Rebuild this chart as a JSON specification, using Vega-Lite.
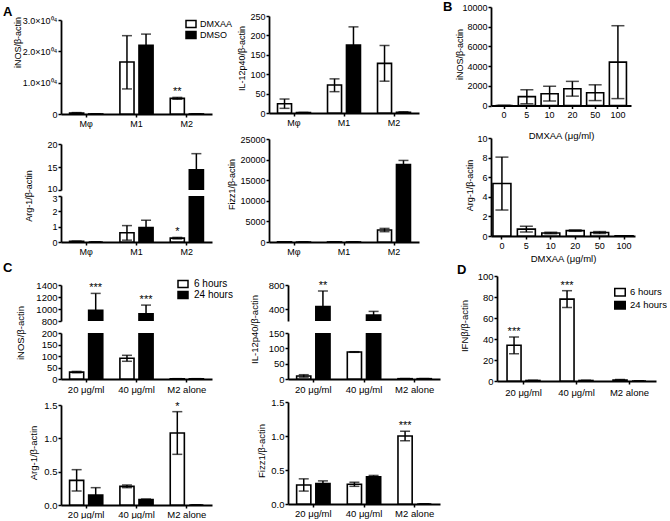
{
"$schema": "https://vega.github.io/schema/vega-lite/v6.json",
"padding": {"left": 3, "top": 1, "right": 0, "bottom": 0},
"background": "white",
"config": {
  "view": {"stroke": null},
  "font": "Liberation Sans",
  "axis": {"domainColor": "black", "domainWidth": 1.8, "tickColor": "black", "tickWidth": 1.5, "tickSize": 3, "labelColor": "black", "labelFontSize": 9, "labelPadding": 1, "labelOverlap": false, "titleColor": "black", "titleFontSize": 9, "titleFontWeight": "normal", "grid": false},
  "legend": {"padding": 0, "labelColor": "black", "labelFontSize": 9, "symbolStrokeColor": "black", "symbolStrokeWidth": 1.5, "labelOffset": 3, "rowPadding": 0},
  "title": {"fontSize": 13, "fontWeight": "bold", "color": "black", "anchor": "start", "frame": "group", "offset": 0},
  "text": {"color": "black"}
},
"datasets": {
  "AiNOS": [
    {"cat": "Mφ", "grp": "DMXAA", "mean": 300, "lo": 150, "hi": 450},
    {"cat": "Mφ", "grp": "DMSO", "mean": 20, "lo": 20, "hi": 20},
    {"cat": "M1", "grp": "DMXAA", "mean": 16600, "lo": 8000, "hi": 25000},
    {"cat": "M1", "grp": "DMSO", "mean": 21900, "lo": 18300, "hi": 25500},
    {"cat": "M2", "grp": "DMXAA", "mean": 5000, "lo": 4700, "hi": 5300, "sig": "**"},
    {"cat": "M2", "grp": "DMSO", "mean": 20, "lo": 20, "hi": 20}
  ],
  "AIL12": [
    {"cat": "Mφ", "grp": "DMXAA", "mean": 24, "lo": 12, "hi": 36},
    {"cat": "Mφ", "grp": "DMSO", "mean": 1, "lo": 0.5, "hi": 1.5},
    {"cat": "M1", "grp": "DMXAA", "mean": 72, "lo": 55, "hi": 88},
    {"cat": "M1", "grp": "DMSO", "mean": 175, "lo": 128, "hi": 222},
    {"cat": "M2", "grp": "DMXAA", "mean": 128, "lo": 82, "hi": 174},
    {"cat": "M2", "grp": "DMSO", "mean": 2, "lo": 1, "hi": 3}
  ],
  "AArg1": [
    {"cat": "Mφ", "grp": "DMXAA", "mean": 0.04, "lo": 0.03, "hi": 0.05},
    {"cat": "Mφ", "grp": "DMSO", "mean": 0, "lo": 0, "hi": 0},
    {"cat": "M1", "grp": "DMXAA", "mean": 0.6, "lo": 0.12, "hi": 1.07},
    {"cat": "M1", "grp": "DMSO", "mean": 0.95, "lo": 0.48, "hi": 1.42},
    {"cat": "M2", "grp": "DMXAA", "mean": 0.25, "lo": 0.2, "hi": 0.3, "sig": "*"},
    {"cat": "M2", "grp": "DMSO", "mean": 14.4, "lo": 10.9, "hi": 17.9}
  ],
  "AFizz1": [
    {"cat": "Mφ", "grp": "DMXAA", "mean": 20, "lo": 20, "hi": 20},
    {"cat": "Mφ", "grp": "DMSO", "mean": 10, "lo": 10, "hi": 10},
    {"cat": "M1", "grp": "DMXAA", "mean": 20, "lo": 20, "hi": 20},
    {"cat": "M1", "grp": "DMSO", "mean": 10, "lo": 10, "hi": 10},
    {"cat": "M2", "grp": "DMXAA", "mean": 2900, "lo": 2500, "hi": 3300},
    {"cat": "M2", "grp": "DMSO", "mean": 18800, "lo": 17800, "hi": 19800}
  ],
  "BiNOS": [
    {"conc": "0", "mean": 0, "lo": 0, "hi": 0},
    {"conc": "5", "mean": 900, "lo": 170, "hi": 1600},
    {"conc": "10", "mean": 1200, "lo": 450, "hi": 1950},
    {"conc": "20", "mean": 1700, "lo": 950, "hi": 2450},
    {"conc": "50", "mean": 1300, "lo": 500, "hi": 2100},
    {"conc": "100", "mean": 4400, "lo": 700, "hi": 8100}
  ],
  "BArg1": [
    {"conc": "0", "mean": 5.35, "lo": 2.65, "hi": 8.05},
    {"conc": "5", "mean": 0.7, "lo": 0.4, "hi": 1.0},
    {"conc": "10", "mean": 0.3, "lo": 0.22, "hi": 0.38},
    {"conc": "20", "mean": 0.55, "lo": 0.48, "hi": 0.62},
    {"conc": "50", "mean": 0.35, "lo": 0.25, "hi": 0.45},
    {"conc": "100", "mean": 0.02, "lo": 0.01, "hi": 0.03}
  ],
  "CiNOS": [
    {"cat": "20 μg/ml", "grp": "6 hours", "mean": 30, "lo": 27, "hi": 33},
    {"cat": "20 μg/ml", "grp": "24 hours", "mean": 980, "lo": 700, "hi": 1260, "sig": "***"},
    {"cat": "40 μg/ml", "grp": "6 hours", "mean": 90, "lo": 77, "hi": 103},
    {"cat": "40 μg/ml", "grp": "24 hours", "mean": 920, "lo": 775, "hi": 1065, "sig": "***"},
    {"cat": "M2 alone", "grp": "6 hours", "mean": 1, "lo": 0.5, "hi": 1.5},
    {"cat": "M2 alone", "grp": "24 hours", "mean": 1, "lo": 0.5, "hi": 1.5}
  ],
  "CIL12": [
    {"cat": "20 μg/ml", "grp": "6 hours", "mean": 10, "lo": 6, "hi": 14},
    {"cat": "20 μg/ml", "grp": "24 hours", "mean": 440, "lo": 180, "hi": 700, "sig": "**"},
    {"cat": "40 μg/ml", "grp": "6 hours", "mean": 88, "lo": 87, "hi": 89},
    {"cat": "40 μg/ml", "grp": "24 hours", "mean": 300, "lo": 240, "hi": 360},
    {"cat": "M2 alone", "grp": "6 hours", "mean": 1, "lo": 0.5, "hi": 1.5},
    {"cat": "M2 alone", "grp": "24 hours", "mean": 1, "lo": 0.5, "hi": 1.5}
  ],
  "CArg1": [
    {"cat": "20 μg/ml", "grp": "6 hours", "mean": 0.37, "lo": 0.21, "hi": 0.53},
    {"cat": "20 μg/ml", "grp": "24 hours", "mean": 0.15, "lo": 0.04, "hi": 0.26},
    {"cat": "40 μg/ml", "grp": "6 hours", "mean": 0.28, "lo": 0.26, "hi": 0.3},
    {"cat": "40 μg/ml", "grp": "24 hours", "mean": 0.08, "lo": 0.07, "hi": 0.09},
    {"cat": "M2 alone", "grp": "6 hours", "mean": 1.08, "lo": 0.76, "hi": 1.4, "sig": "*"},
    {"cat": "M2 alone", "grp": "24 hours", "mean": 0, "lo": 0, "hi": 0}
  ],
  "CFizz1": [
    {"cat": "20 μg/ml", "grp": "6 hours", "mean": 0.28, "lo": 0.19, "hi": 0.37},
    {"cat": "20 μg/ml", "grp": "24 hours", "mean": 0.3, "lo": 0.26, "hi": 0.34},
    {"cat": "40 μg/ml", "grp": "6 hours", "mean": 0.29, "lo": 0.26, "hi": 0.32},
    {"cat": "40 μg/ml", "grp": "24 hours", "mean": 0.4, "lo": 0.38, "hi": 0.42},
    {"cat": "M2 alone", "grp": "6 hours", "mean": 1.0, "lo": 0.93, "hi": 1.07, "sig": "***"},
    {"cat": "M2 alone", "grp": "24 hours", "mean": 0, "lo": 0, "hi": 0}
  ],
  "DIFN": [
    {"cat": "20 μg/ml", "grp": "6 hours", "mean": 34, "lo": 26, "hi": 42, "sig": "***"},
    {"cat": "20 μg/ml", "grp": "24 hours", "mean": 0.5, "lo": 0.3, "hi": 0.7},
    {"cat": "40 μg/ml", "grp": "6 hours", "mean": 78, "lo": 70, "hi": 86, "sig": "***"},
    {"cat": "40 μg/ml", "grp": "24 hours", "mean": 0.5, "lo": 0.3, "hi": 0.7},
    {"cat": "M2 alone", "grp": "6 hours", "mean": 1, "lo": 0.6, "hi": 1.4},
    {"cat": "M2 alone", "grp": "24 hours", "mean": 0, "lo": 0, "hi": 0}
  ]
},
"resolve": {"scale": {"fill": "independent", "xOffset": "independent"}, "legend": {"fill": "independent"}},
"spacing": -2,
"vconcat": [
{
  "spacing": 24,
  "resolve": {"scale": {"fill": "independent", "xOffset": "independent"}, "legend": {"fill": "independent"}},
  "hconcat": [
  {
    "spacing": -7,
    "resolve": {"scale": {"fill": "independent", "xOffset": "independent"}, "legend": {"fill": "independent"}},
    "hconcat": [
    {
      "spacing": 6, "bounds": "flush",
      "resolve": {"scale": {"fill": "independent", "xOffset": "independent"}, "legend": {"fill": "independent"}},
      "vconcat": [
        {"width": 10, "height": 6.5, "data": {"values": [{"s": 1}]}, "mark": {"type": "point", "opacity": 0, "size": 1}, "encoding": {}},
        {
          "width": 151, "height": 94, "data": {"name": "AiNOS"},
          "title": {"text": "A", "dx": -58, "dy": 7},
          "encoding": {
            "x": {"field": "cat", "type": "nominal", "sort": null, "scale": {"paddingInner": 0, "paddingOuter": 0}, "axis": {"title": null, "labelAngle": 0, "labelPadding": 2}},
            "xOffset": {"field": "grp", "type": "nominal", "sort": null, "scale": {"paddingInner": 0.26, "paddingOuter": 0.45}}
          },
          "layer": [
            {"mark": {"type": "bar", "stroke": "black", "strokeWidth": 1.6},
             "encoding": {
               "y": {"field": "mean", "type": "quantitative", "title": "iNOS/β-actin", "scale": {"domain": [0, 30000], "nice": false}, "axis": {"values": [0, 10000, 20000, 30000], "tickCount": 20, "labelOverlap": false, "labelExpr": "datum.value == 0 ? '0' : format(datum.value / 10000, '.1f') + '×10⁰⁴'", "titleX": -39, "titleY": 22}},
               "fill": {"field": "grp", "type": "nominal", "sort": null, "scale": {"domain": ["DMXAA", "DMSO"], "range": ["white", "black"]}, "legend": {"title": null, "orient": "none", "legendX": 124, "legendY": -1.5, "symbolType": "M-1,-0.7H1V0.7H-1Z", "symbolSize": 100, "clipHeight": 11, "rowPadding": 0}}
             }},
            {"mark": {"type": "rule", "color": "black", "strokeWidth": 1.5}, "encoding": {"y": {"field": "lo", "type": "quantitative", "title": "iNOS/β-actin"}, "y2": {"field": "hi"}}},
            {"mark": {"type": "tick", "color": "black", "size": 10, "thickness": 1.5}, "encoding": {"y": {"field": "lo", "type": "quantitative", "title": "iNOS/β-actin"}}},
            {"mark": {"type": "tick", "color": "black", "size": 10, "thickness": 1.5}, "encoding": {"y": {"field": "hi", "type": "quantitative", "title": "iNOS/β-actin"}}},
            {"transform": [{"filter": "isValid(datum.sig)"}], "mark": {"type": "text", "fontSize": 11, "baseline": "bottom"}, "encoding": {"y": {"field": "hi", "type": "quantitative", "title": "iNOS/β-actin"}, "text": {"field": "sig"}}}
          ]
        },
        {"width": 10, "height": 18, "data": {"values": [{"s": 1}]}, "mark": {"type": "point", "opacity": 0, "size": 1}, "encoding": {}},
        {
          "width": 151, "height": 46, "data": {"name": "AArg1"},
          "encoding": {
            "x": {"field": "cat", "type": "nominal", "sort": null, "scale": {"paddingInner": 0, "paddingOuter": 0}, "axis": null},
            "xOffset": {"field": "grp", "type": "nominal", "sort": null, "scale": {"paddingInner": 0.26, "paddingOuter": 0.45}}
          },
          "layer": [
            {"mark": {"type": "bar", "stroke": "black", "strokeWidth": 1.6, "clip": true},
             "encoding": {
               "y": {"field": "mean", "type": "quantitative", "title": "Arg-1/β-actin", "scale": {"domain": [10, 20], "nice": false}, "axis": {"values": [10, 15, 20], "tickCount": 20, "format": "d", "labelOverlap": false, "labelOffset": {"condition": {"test": "datum.value == 10", "value": -2}, "value": 0}, "titleX": -28, "titleY": 51.5}},
               "fill": {"field": "grp", "type": "nominal", "sort": null, "scale": {"domain": ["DMXAA", "DMSO"], "range": ["white", "black"]}, "legend": null}
             }},
            {"mark": {"type": "rule", "color": "black", "strokeWidth": 1.5, "clip": true}, "encoding": {"y": {"field": "lo", "type": "quantitative", "title": "Arg-1/β-actin"}, "y2": {"field": "hi"}}},
            {"mark": {"type": "tick", "color": "black", "size": 10, "thickness": 1.5, "clip": true}, "encoding": {"y": {"field": "lo", "type": "quantitative", "title": "Arg-1/β-actin"}}},
            {"mark": {"type": "tick", "color": "black", "size": 10, "thickness": 1.5, "clip": true}, "encoding": {"y": {"field": "hi", "type": "quantitative", "title": "Arg-1/β-actin"}}}
          ]
        },
        {
          "width": 151, "height": 46, "data": {"name": "AArg1"},
          "encoding": {
            "x": {"field": "cat", "type": "nominal", "sort": null, "scale": {"paddingInner": 0, "paddingOuter": 0}, "axis": {"title": null, "labelAngle": 0, "labelPadding": 2}},
            "xOffset": {"field": "grp", "type": "nominal", "sort": null, "scale": {"paddingInner": 0.26, "paddingOuter": 0.45}}
          },
          "layer": [
            {"mark": {"type": "bar", "stroke": "black", "strokeWidth": 1.6, "clip": true},
             "encoding": {
               "y": {"field": "mean", "type": "quantitative", "title": null, "scale": {"domain": [0, 3], "nice": false}, "axis": {"values": [0, 1, 2, 3], "tickCount": 20, "format": "d", "labelOverlap": false, "labelOffset": {"condition": {"test": "datum.value == 3", "value": 2}, "value": 0}}},
               "fill": {"field": "grp", "type": "nominal", "sort": null, "scale": {"domain": ["DMXAA", "DMSO"], "range": ["white", "black"]}, "legend": null}
             }},
            {"mark": {"type": "rule", "color": "black", "strokeWidth": 1.5, "clip": true}, "encoding": {"y": {"field": "lo", "type": "quantitative", "title": null}, "y2": {"field": "hi"}}},
            {"mark": {"type": "tick", "color": "black", "size": 10, "thickness": 1.5, "clip": true}, "encoding": {"y": {"field": "lo", "type": "quantitative", "title": null}}},
            {"mark": {"type": "tick", "color": "black", "size": 10, "thickness": 1.5, "clip": true}, "encoding": {"y": {"field": "hi", "type": "quantitative", "title": null}}},
            {"transform": [{"filter": "isValid(datum.sig) && datum.hi <= 3"}], "mark": {"type": "text", "fontSize": 11, "baseline": "bottom"}, "encoding": {"y": {"field": "hi", "type": "quantitative", "title": null}, "text": {"field": "sig"}}}
          ]
        }
      ]
    },
    {
      "spacing": 6, "bounds": "flush",
      "resolve": {"scale": {"fill": "independent", "xOffset": "independent"}, "legend": {"fill": "independent"}},
      "vconcat": [
        {"width": 10, "height": 2.5, "data": {"values": [{"s": 1}]}, "mark": {"type": "point", "opacity": 0, "size": 1}, "encoding": {}},
        {
          "width": 150, "height": 97, "data": {"name": "AIL12"},
          "encoding": {
            "x": {"field": "cat", "type": "nominal", "sort": null, "scale": {"paddingInner": 0, "paddingOuter": 0}, "axis": {"title": null, "labelAngle": 0, "labelPadding": 2}},
            "xOffset": {"field": "grp", "type": "nominal", "sort": null, "scale": {"paddingInner": 0.26, "paddingOuter": 0.45}}
          },
          "layer": [
            {"mark": {"type": "bar", "stroke": "black", "strokeWidth": 1.6},
             "encoding": {
               "y": {"field": "mean", "type": "quantitative", "title": "IL-12p40/β-actin", "scale": {"domain": [0, 250], "nice": false}, "axis": {"values": [0, 50, 100, 150, 200, 250], "tickCount": 20, "format": "d", "labelOverlap": false, "titleX": -23, "titleY": 42}},
               "fill": {"field": "grp", "type": "nominal", "sort": null, "scale": {"domain": ["DMXAA", "DMSO"], "range": ["white", "black"]}, "legend": null}
             }},
            {"mark": {"type": "rule", "color": "black", "strokeWidth": 1.5}, "encoding": {"y": {"field": "lo", "type": "quantitative", "title": "IL-12p40/β-actin"}, "y2": {"field": "hi"}}},
            {"mark": {"type": "tick", "color": "black", "size": 10, "thickness": 1.5}, "encoding": {"y": {"field": "lo", "type": "quantitative", "title": "IL-12p40/β-actin"}}},
            {"mark": {"type": "tick", "color": "black", "size": 10, "thickness": 1.5}, "encoding": {"y": {"field": "hi", "type": "quantitative", "title": "IL-12p40/β-actin"}}}
          ]
        },
        {"width": 10, "height": 14, "data": {"values": [{"s": 1}]}, "mark": {"type": "point", "opacity": 0, "size": 1}, "encoding": {}},
        {
          "width": 150, "height": 103, "data": {"name": "AFizz1"},
          "encoding": {
            "x": {"field": "cat", "type": "nominal", "sort": null, "scale": {"paddingInner": 0, "paddingOuter": 0}, "axis": {"title": null, "labelAngle": 0, "labelPadding": 2}},
            "xOffset": {"field": "grp", "type": "nominal", "sort": null, "scale": {"paddingInner": 0.26, "paddingOuter": 0.45}}
          },
          "layer": [
            {"mark": {"type": "bar", "stroke": "black", "strokeWidth": 1.6},
             "encoding": {
               "y": {"field": "mean", "type": "quantitative", "title": "Fizz1/β-actin", "scale": {"domain": [0, 25000], "nice": false}, "axis": {"values": [0, 5000, 10000, 15000, 20000, 25000], "tickCount": 20, "labelOverlap": false, "format": "d", "titleX": -33, "titleY": 45}},
               "fill": {"field": "grp", "type": "nominal", "sort": null, "scale": {"domain": ["DMXAA", "DMSO"], "range": ["white", "black"]}, "legend": null}
             }},
            {"mark": {"type": "rule", "color": "black", "strokeWidth": 1.5}, "encoding": {"y": {"field": "lo", "type": "quantitative", "title": "Fizz1/β-actin"}, "y2": {"field": "hi"}}},
            {"mark": {"type": "tick", "color": "black", "size": 10, "thickness": 1.5}, "encoding": {"y": {"field": "lo", "type": "quantitative", "title": "Fizz1/β-actin"}}},
            {"mark": {"type": "tick", "color": "black", "size": 10, "thickness": 1.5}, "encoding": {"y": {"field": "hi", "type": "quantitative", "title": "Fizz1/β-actin"}}}
          ]
        }
      ]
    }
    ]
  },
  {
    "spacing": 32, "bounds": "flush",
    "resolve": {"scale": {"fill": "independent", "xOffset": "independent"}, "legend": {"fill": "independent"}},
    "vconcat": [
      {
        "width": 140, "height": 98.5, "data": {"name": "BiNOS"},
        "title": {"text": "B", "dx": -48, "dy": 15},
        "encoding": {
          "x": {"field": "conc", "type": "ordinal", "sort": null, "scale": {"paddingInner": 0.25, "paddingOuter": 0.2}, "axis": {"title": "DMXAA (μg/ml)", "labelAngle": 0, "labelPadding": 2, "titlePadding": 11, "titleFontSize": 9.5}}
        },
        "layer": [
          {"mark": {"type": "bar", "stroke": "black", "strokeWidth": 1.6, "fill": "white"},
           "encoding": {"y": {"field": "mean", "type": "quantitative", "title": "iNOS/β-actin", "scale": {"domain": [0, 10000], "nice": false}, "axis": {"values": [0, 2000, 4000, 6000, 8000, 10000], "tickCount": 20, "labelOverlap": false, "format": "d", "titleX": -27, "titleY": 47}}}},
          {"mark": {"type": "rule", "color": "black", "strokeWidth": 1.5}, "encoding": {"y": {"field": "lo", "type": "quantitative", "title": "iNOS/β-actin"}, "y2": {"field": "hi"}}},
          {"mark": {"type": "tick", "color": "black", "size": 13, "thickness": 1.5}, "encoding": {"y": {"field": "lo", "type": "quantitative", "title": "iNOS/β-actin"}}},
          {"mark": {"type": "tick", "color": "black", "size": 13, "thickness": 1.5}, "encoding": {"y": {"field": "hi", "type": "quantitative", "title": "iNOS/β-actin"}}}
        ]
      },
      {
        "width": 144, "height": 98, "data": {"name": "BArg1"},
        "encoding": {
          "x": {"field": "conc", "type": "ordinal", "sort": null, "scale": {"paddingInner": 0.265, "paddingOuter": 0.08}, "axis": {"title": "DMXAA (μg/ml)", "labelAngle": 0, "labelPadding": 2, "titlePadding": 3, "titleFontSize": 9.5}}
        },
        "layer": [
          {"mark": {"type": "bar", "stroke": "black", "strokeWidth": 1.6, "fill": "white"},
           "encoding": {"y": {"field": "mean", "type": "quantitative", "title": "Arg-1/β-actin", "scale": {"domain": [0, 10], "nice": false}, "axis": {"values": [0, 2, 4, 6, 8, 10], "tickCount": 20, "format": "d", "labelOverlap": false, "titleX": -17, "titleY": 47}}}},
          {"mark": {"type": "rule", "color": "black", "strokeWidth": 1.5}, "encoding": {"y": {"field": "lo", "type": "quantitative", "title": "Arg-1/β-actin"}, "y2": {"field": "hi"}}},
          {"mark": {"type": "tick", "color": "black", "size": 13, "thickness": 1.5}, "encoding": {"y": {"field": "lo", "type": "quantitative", "title": "Arg-1/β-actin"}}},
          {"mark": {"type": "tick", "color": "black", "size": 13, "thickness": 1.5}, "encoding": {"y": {"field": "hi", "type": "quantitative", "title": "Arg-1/β-actin"}}}
        ]
      }
    ]
  }
  ]
},
{
  "spacing": 17,
  "resolve": {"scale": {"fill": "independent", "xOffset": "independent"}, "legend": {"fill": "independent"}},
  "hconcat": [
  {
    "spacing": 15,
    "resolve": {"scale": {"fill": "independent", "xOffset": "independent"}, "legend": {"fill": "independent"}},
    "hconcat": [
    {
      "spacing": 4, "bounds": "flush",
      "resolve": {"scale": {"fill": "independent", "xOffset": "independent"}, "legend": {"fill": "independent"}},
      "vconcat": [
        {"width": 10, "height": 11, "data": {"values": [{"s": 1}]}, "mark": {"type": "point", "opacity": 0, "size": 1}, "encoding": {}},
        {
          "width": 151, "height": 36, "data": {"name": "CiNOS"},
          "title": {"text": "C", "dx": -58, "dy": 0},
          "encoding": {
            "x": {"field": "cat", "type": "nominal", "sort": null, "scale": {"paddingInner": 0, "paddingOuter": 0}, "axis": null},
            "xOffset": {"field": "grp", "type": "nominal", "sort": null, "scale": {"paddingInner": 0.26, "paddingOuter": 0.45}}
          },
          "layer": [
            {"mark": {"type": "bar", "stroke": "black", "strokeWidth": 1.6, "clip": true},
             "encoding": {
               "y": {"field": "mean", "type": "quantitative", "title": "iNOS/β-actin", "scale": {"domain": [800, 1400], "nice": false}, "axis": {"values": [800, 1000, 1200, 1400], "tickCount": 20, "labelOverlap": false, "format": "d", "labelFontSize": 9.5, "titleFontSize": 9.5, "titleX": -36, "titleY": 47.5}},
               "fill": {"field": "grp", "type": "nominal", "sort": null, "scale": {"domain": ["6 hours", "24 hours"], "range": ["white", "black"]}, "legend": {"title": null, "orient": "none", "legendX": 116, "legendY": -6.5, "symbolType": "M-1,-0.7H1V0.7H-1Z", "symbolSize": 100, "labelFontSize": 10, "labelOffset": 5, "clipHeight": 11, "rowPadding": 0}}
             }},
            {"mark": {"type": "rule", "color": "black", "strokeWidth": 1.5, "clip": true}, "encoding": {"y": {"field": "lo", "type": "quantitative", "title": "iNOS/β-actin"}, "y2": {"field": "hi"}}},
            {"mark": {"type": "tick", "color": "black", "size": 10, "thickness": 1.5, "clip": true}, "encoding": {"y": {"field": "lo", "type": "quantitative", "title": "iNOS/β-actin"}}},
            {"mark": {"type": "tick", "color": "black", "size": 10, "thickness": 1.5, "clip": true}, "encoding": {"y": {"field": "hi", "type": "quantitative", "title": "iNOS/β-actin"}}},
            {"transform": [{"filter": "isValid(datum.sig) && datum.hi > 800"}], "mark": {"type": "text", "fontSize": 11, "baseline": "bottom"}, "encoding": {"y": {"field": "hi", "type": "quantitative", "title": "iNOS/β-actin"}, "text": {"field": "sig"}}}
          ]
        },
        {"width": 10, "height": 4, "data": {"values": [{"s": 1}]}, "mark": {"type": "point", "opacity": 0, "size": 1}, "encoding": {}},
        {
          "width": 151, "height": 46, "data": {"name": "CiNOS"},
          "encoding": {
            "x": {"field": "cat", "type": "nominal", "sort": null, "scale": {"paddingInner": 0, "paddingOuter": 0}, "axis": {"title": null, "labelAngle": 0, "labelPadding": 2, "labelFontSize": 9.5}},
            "xOffset": {"field": "grp", "type": "nominal", "sort": null, "scale": {"paddingInner": 0.26, "paddingOuter": 0.45}}
          },
          "layer": [
            {"mark": {"type": "bar", "stroke": "black", "strokeWidth": 1.6, "clip": true},
             "encoding": {
               "y": {"field": "mean", "type": "quantitative", "title": null, "scale": {"domain": [0, 200], "nice": false}, "axis": {"values": [0, 50, 100, 150, 200], "tickCount": 20, "format": "d", "labelOverlap": false, "labelFontSize": 9.5}},
               "fill": {"field": "grp", "type": "nominal", "sort": null, "scale": {"domain": ["6 hours", "24 hours"], "range": ["white", "black"]}, "legend": null}
             }},
            {"mark": {"type": "rule", "color": "black", "strokeWidth": 1.5, "clip": true}, "encoding": {"y": {"field": "lo", "type": "quantitative", "title": null}, "y2": {"field": "hi"}}},
            {"mark": {"type": "tick", "color": "black", "size": 10, "thickness": 1.5, "clip": true}, "encoding": {"y": {"field": "lo", "type": "quantitative", "title": null}}},
            {"mark": {"type": "tick", "color": "black", "size": 10, "thickness": 1.5, "clip": true}, "encoding": {"y": {"field": "hi", "type": "quantitative", "title": null}}}
          ]
        },
        {"width": 10, "height": 18, "data": {"values": [{"s": 1}]}, "mark": {"type": "point", "opacity": 0, "size": 1}, "encoding": {}},
        {
          "width": 151, "height": 100, "data": {"name": "CArg1"},
          "encoding": {
            "x": {"field": "cat", "type": "nominal", "sort": null, "scale": {"paddingInner": 0, "paddingOuter": 0}, "axis": {"title": null, "labelAngle": 0, "labelPadding": 1, "labelFontSize": 9.5}},
            "xOffset": {"field": "grp", "type": "nominal", "sort": null, "scale": {"paddingInner": 0.26, "paddingOuter": 0.45}}
          },
          "layer": [
            {"mark": {"type": "bar", "stroke": "black", "strokeWidth": 1.6},
             "encoding": {
               "y": {"field": "mean", "type": "quantitative", "title": "Arg-1/β-actin", "scale": {"domain": [0, 1.5], "nice": false}, "axis": {"values": [0, 0.5, 1, 1.5], "tickCount": 20, "labelOverlap": false, "format": ".1f", "labelFontSize": 9.5, "titleFontSize": 9.5, "titleX": -23, "titleY": 47.5}},
               "fill": {"field": "grp", "type": "nominal", "sort": null, "scale": {"domain": ["6 hours", "24 hours"], "range": ["white", "black"]}, "legend": null}
             }},
            {"mark": {"type": "rule", "color": "black", "strokeWidth": 1.5}, "encoding": {"y": {"field": "lo", "type": "quantitative", "title": "Arg-1/β-actin"}, "y2": {"field": "hi"}}},
            {"mark": {"type": "tick", "color": "black", "size": 10, "thickness": 1.5}, "encoding": {"y": {"field": "lo", "type": "quantitative", "title": "Arg-1/β-actin"}}},
            {"mark": {"type": "tick", "color": "black", "size": 10, "thickness": 1.5}, "encoding": {"y": {"field": "hi", "type": "quantitative", "title": "Arg-1/β-actin"}}},
            {"transform": [{"filter": "isValid(datum.sig)"}], "mark": {"type": "text", "fontSize": 11, "baseline": "bottom"}, "encoding": {"y": {"field": "hi", "type": "quantitative", "title": "Arg-1/β-actin"}, "text": {"field": "sig"}}}
          ]
        }
      ]
    },
    {
      "spacing": 4, "bounds": "flush",
      "resolve": {"scale": {"fill": "independent", "xOffset": "independent"}, "legend": {"fill": "independent"}},
      "vconcat": [
        {"width": 10, "height": 11, "data": {"values": [{"s": 1}]}, "mark": {"type": "point", "opacity": 0, "size": 1}, "encoding": {}},
        {
          "width": 152, "height": 36, "data": {"name": "CIL12"},
          "encoding": {
            "x": {"field": "cat", "type": "nominal", "sort": null, "scale": {"paddingInner": 0, "paddingOuter": 0}, "axis": null},
            "xOffset": {"field": "grp", "type": "nominal", "sort": null, "scale": {"paddingInner": 0.26, "paddingOuter": 0.45}}
          },
          "layer": [
            {"mark": {"type": "bar", "stroke": "black", "strokeWidth": 1.6, "clip": true},
             "encoding": {
               "y": {"field": "mean", "type": "quantitative", "title": "IL-12p40/β-actin", "scale": {"domain": [200, 800], "nice": false}, "axis": {"values": [400, 800], "tickCount": 20, "format": "d", "labelOverlap": false, "labelFontSize": 9.5, "titleFontSize": 9.5, "titleX": -29, "titleY": 44}},
               "fill": {"field": "grp", "type": "nominal", "sort": null, "scale": {"domain": ["6 hours", "24 hours"], "range": ["white", "black"]}, "legend": null}
             }},
            {"mark": {"type": "rule", "color": "black", "strokeWidth": 1.5, "clip": true}, "encoding": {"y": {"field": "lo", "type": "quantitative", "title": "IL-12p40/β-actin"}, "y2": {"field": "hi"}}},
            {"mark": {"type": "tick", "color": "black", "size": 10, "thickness": 1.5, "clip": true}, "encoding": {"y": {"field": "lo", "type": "quantitative", "title": "IL-12p40/β-actin"}}},
            {"mark": {"type": "tick", "color": "black", "size": 10, "thickness": 1.5, "clip": true}, "encoding": {"y": {"field": "hi", "type": "quantitative", "title": "IL-12p40/β-actin"}}},
            {"transform": [{"filter": "isValid(datum.sig) && datum.hi > 200"}], "mark": {"type": "text", "fontSize": 11, "baseline": "bottom"}, "encoding": {"y": {"field": "hi", "type": "quantitative", "title": "IL-12p40/β-actin"}, "text": {"field": "sig"}}}
          ]
        },
        {"width": 10, "height": 4, "data": {"values": [{"s": 1}]}, "mark": {"type": "point", "opacity": 0, "size": 1}, "encoding": {}},
        {
          "width": 152, "height": 46, "data": {"name": "CIL12"},
          "encoding": {
            "x": {"field": "cat", "type": "nominal", "sort": null, "scale": {"paddingInner": 0, "paddingOuter": 0}, "axis": {"title": null, "labelAngle": 0, "labelPadding": 2, "labelFontSize": 9.5}},
            "xOffset": {"field": "grp", "type": "nominal", "sort": null, "scale": {"paddingInner": 0.26, "paddingOuter": 0.45}}
          },
          "layer": [
            {"mark": {"type": "bar", "stroke": "black", "strokeWidth": 1.6, "clip": true},
             "encoding": {
               "y": {"field": "mean", "type": "quantitative", "title": null, "scale": {"domain": [0, 150], "nice": false}, "axis": {"values": [0, 50, 100, 150], "tickCount": 20, "format": "d", "labelOverlap": false, "labelFontSize": 9.5}},
               "fill": {"field": "grp", "type": "nominal", "sort": null, "scale": {"domain": ["6 hours", "24 hours"], "range": ["white", "black"]}, "legend": null}
             }},
            {"mark": {"type": "rule", "color": "black", "strokeWidth": 1.5, "clip": true}, "encoding": {"y": {"field": "lo", "type": "quantitative", "title": null}, "y2": {"field": "hi"}}},
            {"mark": {"type": "tick", "color": "black", "size": 10, "thickness": 1.5, "clip": true}, "encoding": {"y": {"field": "lo", "type": "quantitative", "title": null}}},
            {"mark": {"type": "tick", "color": "black", "size": 10, "thickness": 1.5, "clip": true}, "encoding": {"y": {"field": "hi", "type": "quantitative", "title": null}}}
          ]
        },
        {"width": 10, "height": 15, "data": {"values": [{"s": 1}]}, "mark": {"type": "point", "opacity": 0, "size": 1}, "encoding": {}},
        {
          "width": 152, "height": 102, "data": {"name": "CFizz1"},
          "encoding": {
            "x": {"field": "cat", "type": "nominal", "sort": null, "scale": {"paddingInner": 0, "paddingOuter": 0}, "axis": {"title": null, "labelAngle": 0, "labelPadding": 1, "labelFontSize": 9.5}},
            "xOffset": {"field": "grp", "type": "nominal", "sort": null, "scale": {"paddingInner": 0.26, "paddingOuter": 0.45}}
          },
          "layer": [
            {"mark": {"type": "bar", "stroke": "black", "strokeWidth": 1.6},
             "encoding": {
               "y": {"field": "mean", "type": "quantitative", "title": "Fizz1/β-actin", "scale": {"domain": [0, 1.5], "nice": false}, "axis": {"values": [0, 0.5, 1, 1.5], "tickCount": 20, "labelOverlap": false, "format": ".1f", "labelFontSize": 9.5, "titleFontSize": 9.5, "titleX": -22, "titleY": 48.5}},
               "fill": {"field": "grp", "type": "nominal", "sort": null, "scale": {"domain": ["6 hours", "24 hours"], "range": ["white", "black"]}, "legend": null}
             }},
            {"mark": {"type": "rule", "color": "black", "strokeWidth": 1.5}, "encoding": {"y": {"field": "lo", "type": "quantitative", "title": "Fizz1/β-actin"}, "y2": {"field": "hi"}}},
            {"mark": {"type": "tick", "color": "black", "size": 10, "thickness": 1.5}, "encoding": {"y": {"field": "lo", "type": "quantitative", "title": "Fizz1/β-actin"}}},
            {"mark": {"type": "tick", "color": "black", "size": 10, "thickness": 1.5}, "encoding": {"y": {"field": "hi", "type": "quantitative", "title": "Fizz1/β-actin"}}},
            {"transform": [{"filter": "isValid(datum.sig)"}], "mark": {"type": "text", "fontSize": 11, "baseline": "bottom"}, "encoding": {"y": {"field": "hi", "type": "quantitative", "title": "Fizz1/β-actin"}, "text": {"field": "sig"}}}
          ]
        }
      ]
    }
    ]
  },
  {
    "spacing": 4, "bounds": "flush",
    "resolve": {"scale": {"fill": "independent", "xOffset": "independent"}, "legend": {"fill": "independent"}},
    "vconcat": [
      {"width": 10, "height": 2, "data": {"values": [{"s": 1}]}, "mark": {"type": "point", "opacity": 0, "size": 1}, "encoding": {}},
      {
        "width": 159, "height": 105, "data": {"name": "DIFN"},
        "title": {"text": "D", "dx": -40, "dy": 10},
        "encoding": {
          "x": {"field": "cat", "type": "nominal", "sort": null, "scale": {"paddingInner": 0, "paddingOuter": 0}, "axis": {"title": null, "labelAngle": 0, "labelPadding": 3, "labelFontSize": 9.5}},
          "xOffset": {"field": "grp", "type": "nominal", "sort": null, "scale": {"paddingInner": 0.26, "paddingOuter": 0.53}}
        },
        "layer": [
          {"mark": {"type": "bar", "stroke": "black", "strokeWidth": 1.6},
           "encoding": {
             "y": {"field": "mean", "type": "quantitative", "title": "IFNβ/β-actin", "scale": {"domain": [0, 100], "nice": false}, "axis": {"values": [0, 20, 40, 60, 80, 100], "tickCount": 20, "format": "d", "labelOverlap": false, "labelFontSize": 9.5, "titleFontSize": 9.5, "titleX": -28, "titleY": 49.5}},
             "fill": {"field": "grp", "type": "nominal", "sort": null, "scale": {"domain": ["6 hours", "24 hours"], "range": ["white", "black"]}, "legend": {"title": null, "orient": "none", "legendX": 117, "legendY": 10, "symbolType": "M-1,-0.7H1V0.7H-1Z", "symbolSize": 110, "labelFontSize": 9.5, "labelOffset": 4, "clipHeight": 12.5, "rowPadding": 0}}
           }},
          {"mark": {"type": "rule", "color": "black", "strokeWidth": 1.5}, "encoding": {"y": {"field": "lo", "type": "quantitative", "title": "IFNβ/β-actin"}, "y2": {"field": "hi"}}},
          {"mark": {"type": "tick", "color": "black", "size": 10, "thickness": 1.5}, "encoding": {"y": {"field": "lo", "type": "quantitative", "title": "IFNβ/β-actin"}}},
          {"mark": {"type": "tick", "color": "black", "size": 10, "thickness": 1.5}, "encoding": {"y": {"field": "hi", "type": "quantitative", "title": "IFNβ/β-actin"}}},
          {"transform": [{"filter": "isValid(datum.sig)"}], "mark": {"type": "text", "fontSize": 11, "baseline": "bottom"}, "encoding": {"y": {"field": "hi", "type": "quantitative", "title": "IFNβ/β-actin"}, "text": {"field": "sig"}}}
        ]
      }
    ]
  }
  ]
}
]
}
